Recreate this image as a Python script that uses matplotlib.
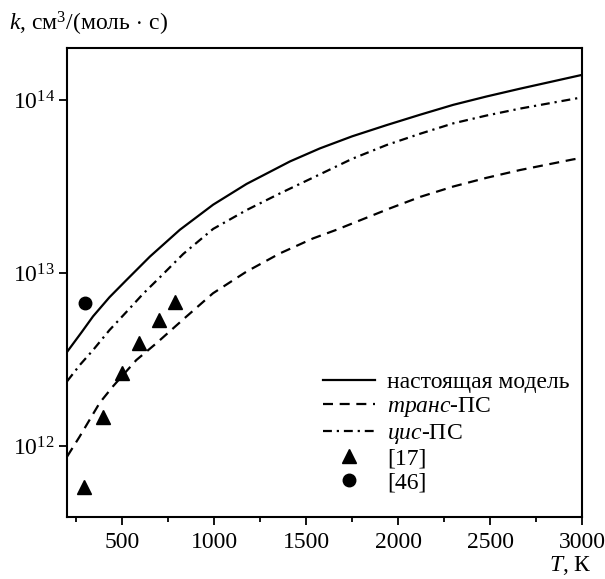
import numpy as np
import matplotlib
matplotlib.use("Agg")
import matplotlib.pyplot as plt
from matplotlib.ticker import FixedLocator, NullLocator

plt.rcParams['font.family'] = ['Liberation Serif', 'DejaVu Serif']
plt.rcParams['mathtext.fontset'] = 'custom'
plt.rcParams['mathtext.rm'] = 'Liberation Serif'
plt.rcParams['mathtext.it'] = 'Liberation Serif:italic'
plt.rcParams['mathtext.bf'] = 'Liberation Serif:bold'

# --- data, k in cm^3/(mol*s) given as log10 values ---
T_model = [200, 280, 341, 430, 523, 650, 813, 994, 1176, 1412, 1574, 1750, 1938,
           2120, 2300, 2480, 2662, 2844, 3000]
logk_model = [12.545, 12.66, 12.75, 12.86, 12.96, 13.095, 13.25, 13.395, 13.515, 13.645,
              13.72, 13.79, 13.855, 13.915, 13.972, 14.02, 14.065, 14.108, 14.145]

T_trans = [200, 268, 377, 449, 576, 685, 848, 993, 1175, 1356, 1537, 1665, 1956,
           2120, 2300, 2480, 2662, 2953, 3000]
logk_trans = [11.94, 12.055, 12.25, 12.345, 12.497, 12.594, 12.748, 12.883, 13.008,
              13.113, 13.20, 13.25, 13.374, 13.44, 13.50, 13.55, 13.595, 13.657, 13.665]

T_cis = [200, 270, 341, 430, 523, 613, 704, 831, 994, 1176, 1357, 1574, 1750, 1938,
         2120, 2300, 2480, 2662, 2844, 3000]
logk_cis = [12.375, 12.47, 12.555, 12.67, 12.776, 12.88, 12.975, 13.11, 13.255, 13.364,
            13.46, 13.57, 13.66, 13.74, 13.805, 13.865, 13.91, 13.95, 13.985, 14.015]

T_ref17 = [290, 396, 496, 592, 701, 786]
logk_ref17 = [11.765, 12.17, 12.42, 12.597, 12.73, 12.834]

T_ref46 = [296]
logk_ref46 = [12.825]

labels = ["настоящая модель", r"$\mathit{транс}$-ПС", r"$\mathit{цис}$-ПС", "[17]", "[46]"]

k_model = 10 ** np.array(logk_model)
k_trans = 10 ** np.array(logk_trans)
k_cis = 10 ** np.array(logk_cis)
k_ref17 = 10 ** np.array(logk_ref17)
k_ref46 = 10 ** np.array(logk_ref46)

fig = plt.figure(figsize=(6.05, 5.79), dpi=100)
ax = fig.add_axes([0.111, 0.107, 0.851, 0.810])

lw = 1.6
ax.plot(T_model, k_model, color='black', lw=lw, linestyle='-', label=labels[0])
ax.plot(T_trans, k_trans, color='black', lw=lw, linestyle=(0, (4.5, 3)), label=labels[1])
ax.plot(T_cis, k_cis, color='black', lw=lw, linestyle=(0, (4, 2.2, 1, 2.2)), label=labels[2])
ax.plot(T_ref17, k_ref17, linestyle='none', marker='^', color='black', markersize=10, label=labels[3])
ax.plot(T_ref46, k_ref46, linestyle='none', marker='o', color='black', markersize=9, label=labels[4])

ax.set_yscale('log')
ax.set_xlim(200, 3000)
ax.set_ylim(10**11.59, 10**14.30)
ax.xaxis.set_major_locator(FixedLocator([500, 1000, 1500, 2000, 2500, 3000]))
ax.xaxis.set_minor_locator(FixedLocator([250, 750, 1250, 1750, 2250, 2750]))
ax.yaxis.set_major_locator(FixedLocator([1e12, 1e13, 1e14]))
ax.yaxis.set_minor_locator(NullLocator())
ax.set_yticklabels([r"$10^{12}$", r"$10^{13}$", r"$10^{14}$"])

ax.tick_params(axis='both', which='major', direction='out', length=6, width=1.3,
               labelsize=17, color='black')
ax.tick_params(axis='x', which='minor', direction='out', length=3.5, width=1.3)
ax.tick_params(axis='x', pad=5)
ax.tick_params(axis='y', pad=3)
for s in ax.spines.values():
    s.set_linewidth(1.5)

fig.text(0.015, 0.958, r"$k$, см$^3$/(моль$\,\cdot\,$с)", fontsize=17, ha='left', va='center')
fig.text(0.978, 0.024, r"$T$, К", fontsize=17, ha='right', va='center')

leg = ax.legend(loc='lower right', frameon=False, fontsize=17, handlelength=2.2,
                handletextpad=0.5, labelspacing=0.1, borderaxespad=0.0,
                borderpad=0.2, bbox_to_anchor=(0.985, 0.04))

fig.savefig("out.png", dpi=100)
